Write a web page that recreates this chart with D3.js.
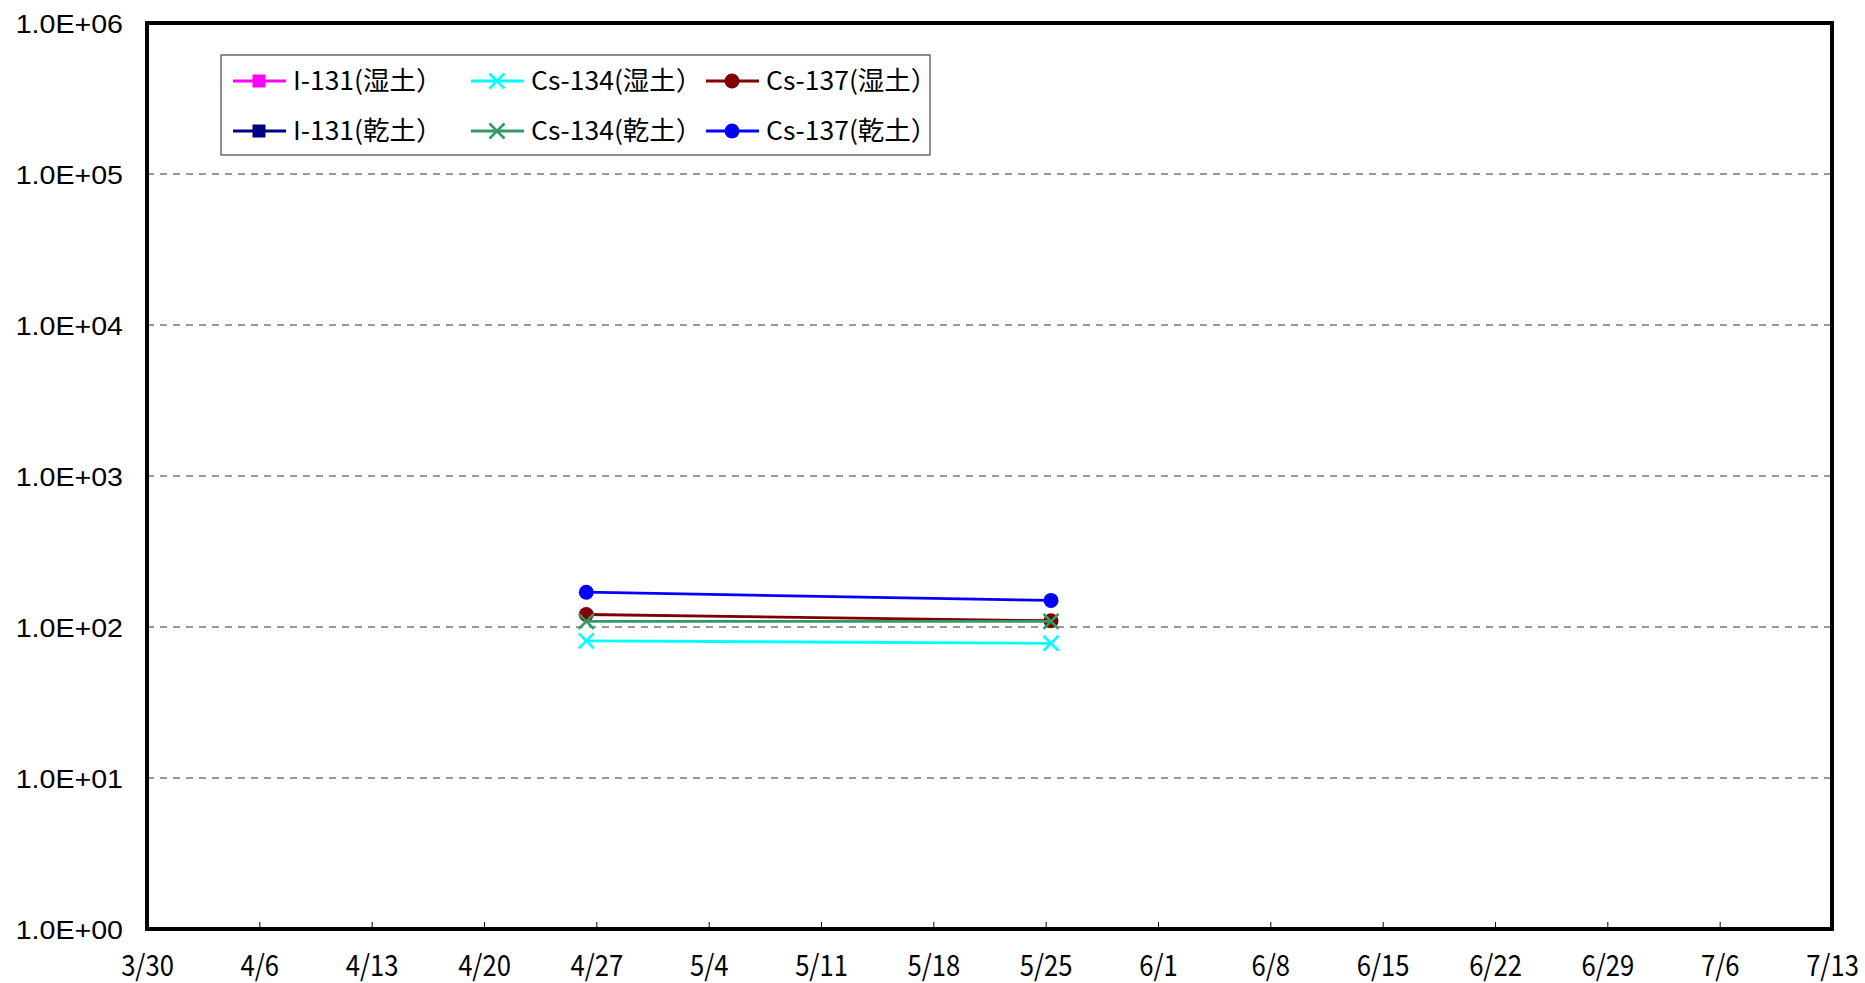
<!DOCTYPE html>
<html>
<head>
<meta charset="utf-8">
<script src="https://cdn.jsdelivr.net/npm/d3@7"></script>
<style>
  html, body { margin: 0; padding: 0; background: #fff; }
  svg { display: block; }
</style>
</head>
<body>
<svg id="chart" width="1865" height="983"></svg>
<script>
// ---- data ----
const sampleDates = ["2011-04-26T09:00", "2011-05-25T08:00"];
const i131Wet  = [];            // 不検出
const cs134Wet = [81, 78];
const cs137Wet = [121, 110];
const i131Dry  = [];            // 不検出
const cs134Dry = [109, 109];
const cs137Dry = [170, 150];

const seriesNames  = ["I-131(湿土）", "Cs-134(湿土）", "Cs-137(湿土）", "I-131(乾土）", "Cs-134(乾土）", "Cs-137(乾土）"];
const seriesValues = [i131Wet, cs134Wet, cs137Wet, i131Dry, cs134Dry, cs137Dry];
const seriesColors = ["#FF00FF", "#00FFFF", "#800000", "#000080", "#339966", "#0000FF"];
const seriesMarkers = ["square", "x", "circle", "square", "x", "circle"];

const xStart = "2011-03-30", xEnd = "2011-07-13";
const xTickLabels = ["3/30","4/6","4/13","4/20","4/27","5/4","5/11","5/18","5/25","6/1","6/8","6/15","6/22","6/29","7/6","7/13"];
const yTickValues = [1, 10, 100, 1000, 10000, 100000, 1000000];
const yTickLabels = ["1.0E+00","1.0E+01","1.0E+02","1.0E+03","1.0E+04","1.0E+05","1.0E+06"];

// ---- layout ----
const L = 147, R = 1832, T = 23, B = 929;
const svg = d3.select("#chart");

const parse = d3.timeParse("%Y-%m-%dT%H:%M");
const parseDay = d3.timeParse("%Y-%m-%d");
const x = d3.scaleTime().domain([parseDay(xStart), parseDay(xEnd)]).range([L, R]);
const y = d3.scaleLog().domain([1, 1e6]).range([B, T]);

const tickDates = xTickLabels.map((s, i) => d3.timeDay.offset(parseDay(xStart), 7 * i));

// grid lines
svg.append("g").selectAll("line")
  .data(yTickValues.filter(v => v > 1 && v < 1e6))
  .join("line")
  .attr("x1", L).attr("x2", R)
  .attr("y1", d => y(d)).attr("y2", d => y(d))
  .attr("stroke", "#333").attr("stroke-width", 1)
  .attr("stroke-dasharray", "7,6");

// x axis ticks (inside, pointing up)
const xAxis = d3.axisBottom(x).tickValues(tickDates).tickSize(-7).tickFormat((d, i) => xTickLabels[i]);
const gx = svg.append("g").attr("transform", `translate(0,${B})`).call(xAxis);
gx.select(".domain").remove();
gx.selectAll(".tick line").attr("stroke", "#000").attr("stroke-width", 1);
gx.selectAll(".tick text")
  .attr("y", 0).attr("dy", 0)
  .attr("transform", "translate(0,47) scale(0.95,1.08)")
  .attr("font-family", "'Noto Sans CJK JP', sans-serif")
  .attr("font-size", 27)
  .attr("fill", "#000")
  .attr("text-anchor", "middle");

// y axis labels
const yAxis = d3.axisLeft(y).tickValues(yTickValues).tickSize(0).tickFormat((d, i) => yTickLabels[i]);
const gy = svg.append("g").attr("transform", `translate(${L},0)`).call(yAxis);
gy.select(".domain").remove();
gy.selectAll(".tick text")
  .attr("x", 0).attr("dy", "0.36em")
  .attr("text-anchor", "end")
  .attr("transform", "translate(-24,0) scale(1.1,1)")
  .attr("font-family", "'Liberation Sans', Arial, sans-serif")
  .attr("font-size", 26)
  .attr("fill", "#000");

// plot frame
svg.append("rect")
  .attr("x", L).attr("y", T).attr("width", R - L).attr("height", B - T)
  .attr("fill", "none").attr("stroke", "#000").attr("stroke-width", 4);

// markers
function drawMarker(g, type, color, cx, cy, size) {
  if (type === "square") {
    g.append("rect").attr("x", cx - size / 2).attr("y", cy - size / 2)
      .attr("width", size).attr("height", size).attr("fill", color);
  } else if (type === "circle") {
    g.append("circle").attr("cx", cx).attr("cy", cy).attr("r", size / 2).attr("fill", color);
  } else if (type === "x") {
    const h = size / 2;
    g.append("path")
      .attr("d", `M${cx - h},${cy - h}L${cx + h},${cy + h}M${cx - h},${cy + h}L${cx + h},${cy - h}`)
      .attr("stroke", color).attr("stroke-width", 2.6).attr("fill", "none");
  }
}

// series
const line = d3.line().x(d => x(d.date)).y(d => y(d.value));
seriesValues.forEach((vals, si) => {
  const pts = vals.map((v, i) => ({ date: parse(sampleDates[i]), value: v }));
  const g = svg.append("g");
  if (pts.length) {
    g.append("path").datum(pts).attr("d", line)
      .attr("fill", "none").attr("stroke", seriesColors[si]).attr("stroke-width", 2.8);
    pts.forEach(p => drawMarker(g, seriesMarkers[si], seriesColors[si], x(p.date), y(p.value),
      seriesMarkers[si] === "square" ? 12 : 15));
  }
});

// legend
const lg = svg.append("g");
lg.append("rect").attr("x", 221).attr("y", 55).attr("width", 709).attr("height", 100)
  .attr("fill", "#fff").attr("stroke", "#444").attr("stroke-width", 1.2);
const colX = [233, 471, 706];
const rowY = [81, 131];
seriesNames.forEach((name, i) => {
  const cx = colX[i % 3], cy = rowY[Math.floor(i / 3)];
  lg.append("line").attr("x1", cx).attr("x2", cx + 53).attr("y1", cy).attr("y2", cy)
    .attr("stroke", seriesColors[i]).attr("stroke-width", 2.8);
  drawMarker(lg, seriesMarkers[i], seriesColors[i], cx + 26, cy, seriesMarkers[i] === "square" ? 13 : 15);
  lg.append("text").attr("x", 0).attr("y", 0).attr("dy", "0.36em")
    .attr("transform", `translate(${cx + 60},${cy}) scale(1.06,1.04)`)
    .attr("font-family", "'Noto Sans CJK JP', sans-serif").attr("font-size", 25)
    .attr("fill", "#000").text(name);
});
</script>
</body>
</html>
